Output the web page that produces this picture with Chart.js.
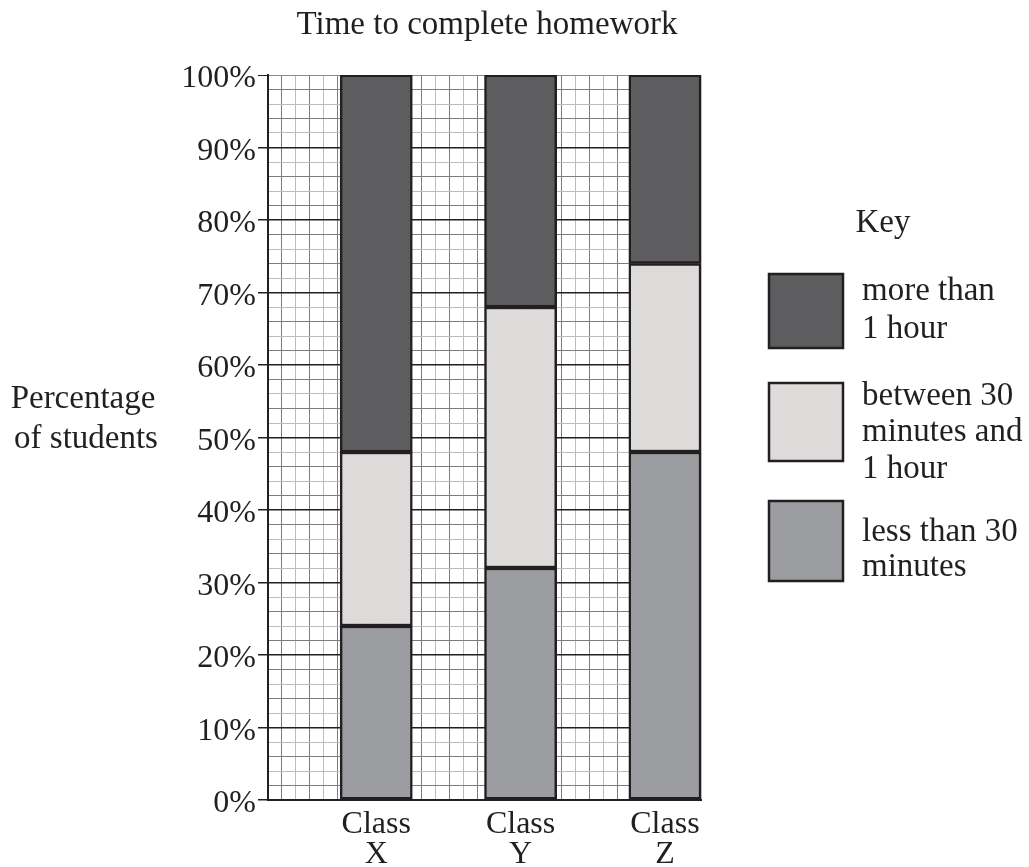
<!DOCTYPE html>
<html>
<head>
<meta charset="utf-8">
<script src="https://cdn.jsdelivr.net/npm/chart.js@4"></script>
<style>
    html, body { margin: 0; padding: 0; background: #fff; }
    #wrap { width: 1029px; height: 867px; }
</style>
</head>
<body>
<div id="wrap"><canvas id="homeworkChart" width="1029" height="867"></canvas></div>
<script>
// values (percent of students)
const classes = ['Class X', 'Class Y', 'Class Z'];
const lessThan30 = [24, 32, 48];
const between30And60 = [24, 36, 26];
const moreThan60 = [52, 32, 26];
const seriesNames = [['less than 30', 'minutes'], ['between 30', 'minutes and', '1 hour'], ['more than', '1 hour']];
const yTicks = [0, 10, 20, 30, 40, 50, 60, 70, 80, 90, 100];

const ink = '#231f20';
const font = 'Liberation Serif';
const colors = ['#9c9da0', '#dcdbda', '#5d5d5f'];

// every class sits in the right half of a double slot, so put an empty slot before each
function spaced(values) {
    let out = [];
    for (let i = 0; i < values.length; i++) {
        out.push(null);
        out.push(values[i]);
    }
    return out;
}

function spacedLabels() {
    let out = [];
    for (let i = 0; i < classes.length; i++) {
        out.push('');
        out.push(classes[i].split(' '));
    }
    return out;
}

function makeDataset(values, i) {
    return {
        data: spaced(values),
        backgroundColor: colors[i],
        borderColor: ink,
        borderWidth: 2.5,
        borderSkipped: false,
        barPercentage: 1,
        categoryPercentage: 1
    };
}

const extraText = {
    id: 'extraText',
    afterDraw(chart) {
        const c = chart.ctx;
        c.save();
        c.fillStyle = ink;
        c.font = '33px "' + font + '"';
        c.textBaseline = 'alphabetic';

        c.textAlign = 'center';
        c.fillText('Time to complete homework', 487, 34);
        c.fillText('Percentage', 83, 408);
        c.fillText('of students', 86, 448);
        c.fillText('Key', 883, 232);

        // key boxes, top to bottom
        const boxes = [
            { ds: 2, top: 274, h: 74, lines: [300, 338] },
            { ds: 1, top: 383, h: 78, lines: [405, 441, 478] },
            { ds: 0, top: 501, h: 80, lines: [541, 576] }
        ];
        c.textAlign = 'left';
        boxes.forEach(function (b) {
            c.fillStyle = colors[b.ds];
            c.fillRect(769, b.top, 74, b.h);
            c.strokeStyle = ink;
            c.lineWidth = 2.5;
            c.strokeRect(769, b.top, 74, b.h);
            c.fillStyle = ink;
            const names = seriesNames[b.ds];
            for (let k = 0; k < names.length; k++) {
                c.fillText(names[k], 862, b.lines[k]);
            }
        });
        c.restore();
    }
};

const ctx = document.getElementById('homeworkChart').getContext('2d');
new Chart(ctx, {
    type: 'bar',
    data: {
        labels: spacedLabels(),
        datasets: [lessThan30, between30And60, moreThan60].map(makeDataset)
    },
    options: {
        responsive: false,
        animation: false,
        layout: {
            padding: { left: 0, right: 328, top: 75, bottom: 0 }
        },
        plugins: {
            legend: { display: false },
            tooltip: { enabled: false },
            title: { display: false }
        },
        scales: {
            x: {
                stacked: true,
                grid: { display: false },
                border: { display: true, color: ink, width: 2 },
                ticks: {
                    color: ink,
                    autoSkip: false,
                    maxRotation: 0,
                    padding: 1,
                    font: { family: font, size: 32, lineHeight: 0.95 }
                },
                afterFit: function (scale) { scale.height = 67; }
            },
            xg: {
                type: 'linear',
                position: 'top',
                min: 0,
                max: 30,
                ticks: { display: false, stepSize: 1 },
                border: { display: false },
                grid: {
                    drawTicks: false,
                    lineWidth: 1,
                    color: function (c) { return c.index % 2 == 1 ? '#7d7d7d' : '#bdbdbd'; }
                },
                afterFit: function (scale) { scale.height = 0; }
            },
            y: {
                stacked: true,
                min: 0,
                max: 100,
                afterBuildTicks: function (scale) {
                    let t = [];
                    for (let v = 0; v <= 100; v += 2) t.push({ value: v });
                    scale.ticks = t;
                },
                border: { display: true, color: ink, width: 2 },
                grid: {
                    tickLength: 10,
                    lineWidth: function (c) { return c.tick.value % 10 == 0 && c.tick.value < 100 ? 1.5 : 1; },
                    color: function (c) {
                        let v = c.tick.value;
                        if (v == 100) return '#8a8a8a';
                        if (v % 10 == 0) return ink;
                        return (v / 2) % 2 == 1 ? '#7d7d7d' : '#bdbdbd';
                    },
                    tickColor: function (c) {
                        return yTicks.indexOf(c.tick.value) >= 0 ? ink : 'rgba(0,0,0,0)';
                    }
                },
                ticks: {
                    color: ink,
                    padding: 2,
                    labelOffset: 4,
                    autoSkip: false,
                    font: { family: font, size: 32 },
                    callback: function (v) { return yTicks.indexOf(v) >= 0 ? v + '%' : ''; }
                },
                afterFit: function (scale) { scale.width = 268; }
            }
        }
    },
    plugins: [extraText]
});
</script>
</body>
</html>
